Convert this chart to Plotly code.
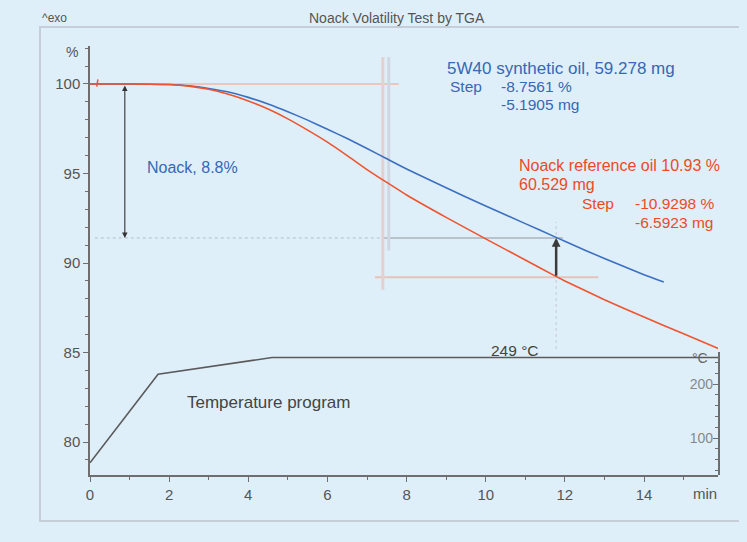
import plotly.graph_objects as go

# ---- data ----
time_synthetic = [0, 1, 2, 2.5, 3, 3.5, 4, 4.5, 5, 5.5, 6, 6.5, 7, 7.5, 8, 9, 10, 11, 11.75, 12, 13, 14, 14.5]
mass_synthetic = [100, 100, 99.97, 99.9, 99.75, 99.55, 99.25, 98.88, 98.45, 97.98, 97.47, 96.95, 96.4,
                  95.82, 95.25, 94.2, 93.18, 92.2, 91.46, 91.21, 90.25, 89.35, 88.94]

time_reference = [0, 1, 2, 2.5, 3, 3.5, 4, 4.5, 5, 5.5, 6, 6.5, 7, 7.5, 8, 9, 10, 11, 11.75, 12, 13, 14, 15, 15.9]
mass_reference = [100, 100, 99.97, 99.88, 99.7, 99.42, 99.05, 98.6, 98.05, 97.42, 96.75, 96.0, 95.22,
                  94.5, 93.8, 92.55, 91.35, 90.17, 89.28, 89.0, 87.95, 86.98, 86.05, 85.2]

temp_time = [0, 1.72, 4.6, 15.9]
temp_values = [54, 218, 249, 249]

x_ticks = [0, 2, 4, 6, 8, 10, 12, 14]
y_ticks = [80, 85, 90, 95, 100]
t_ticks = [100, 200]

start_level = 100
synthetic_level = 91.4
reference_level = 89.2
eval_time = 11.78
noack_arrow_time = 0.88
step_marker_time_a = 7.4
step_marker_time_b = 7.55

BG = "#dfeffa"
BLUE = "#3b6fc1"
RED = "#f0542e"
TXT_BLUE = "#3568b5"
TXT_RED = "#ec4a26"
AX = "#6e6e6e"
FONT = "Liberation Sans, Arial, sans-serif"

fig = go.Figure()

# reference guide lines
fig.add_trace(go.Scatter(x=[0, 7.8], y=[start_level, start_level], mode="lines",
                         line=dict(color="#efb9a9", width=1.5), hoverinfo="skip", showlegend=False))
fig.add_trace(go.Scatter(x=[0.12, step_marker_time_a], y=[synthetic_level, synthetic_level], mode="lines",
                         line=dict(color="#b7bfc7", width=1, dash="dot"), hoverinfo="skip", showlegend=False))
fig.add_trace(go.Scatter(x=[step_marker_time_a, 11.95], y=[synthetic_level, synthetic_level], mode="lines",
                         line=dict(color="#aab3bb", width=1.5), hoverinfo="skip", showlegend=False))
fig.add_trace(go.Scatter(x=[7.2, 12.85], y=[reference_level, reference_level], mode="lines",
                         line=dict(color="#e6c3b9", width=2), hoverinfo="skip", showlegend=False))
fig.add_trace(go.Scatter(x=[step_marker_time_a, step_marker_time_a], y=[88.5, 101.5], mode="lines",
                         line=dict(color="#e4d0d0", width=3), hoverinfo="skip", showlegend=False))
fig.add_trace(go.Scatter(x=[step_marker_time_b, step_marker_time_b], y=[90.7, 101.5], mode="lines",
                         line=dict(color="#cfd8e2", width=3), hoverinfo="skip", showlegend=False))
fig.add_trace(go.Scatter(x=[eval_time, eval_time], y=[78.16, 92.3], mode="lines",
                         line=dict(color="#c3cbd2", width=1, dash="dot"), hoverinfo="skip", showlegend=False))
fig.add_trace(go.Scatter(x=[0.17, 0.2], y=[99.85, 100.25], mode="lines",
                         line=dict(color=RED, width=1.5), hoverinfo="skip", showlegend=False))

# curves
fig.add_trace(go.Scatter(x=time_synthetic, y=mass_synthetic, mode="lines",
                         line=dict(color=BLUE, width=1.6, shape="spline", smoothing=0.5),
                         name="5W40 synthetic oil", showlegend=False))
fig.add_trace(go.Scatter(x=time_reference, y=mass_reference, mode="lines",
                         line=dict(color=RED, width=1.6, shape="spline", smoothing=0.5),
                         name="Noack reference oil", showlegend=False))
fig.add_trace(go.Scatter(x=temp_time, y=temp_values, mode="lines", yaxis="y2",
                         line=dict(color="#5a5a5a", width=1.6),
                         name="Temperature program", showlegend=False))

annotations = []
# arrows
annotations.append(dict(x=noack_arrow_time, y=synthetic_level, ax=noack_arrow_time, ay=start_level,
                        xref="x", yref="y", axref="x", ayref="y", text="", showarrow=True,
                        arrowhead=2, arrowside="end+start", arrowsize=1, arrowwidth=1.1, arrowcolor="#333"))
annotations.append(dict(x=eval_time, y=synthetic_level, ax=eval_time, ay=reference_level,
                        xref="x", yref="y", axref="x", ayref="y", text="", showarrow=True,
                        arrowhead=2, arrowsize=0.7, arrowwidth=2.5, arrowcolor="#3a3a3a"))

def txt(x, y, s, color, size=16, xanchor="left", xref="x", yref="y"):
    annotations.append(dict(x=x, y=y, xref=xref, yref=yref, text=s, showarrow=False,
                            xanchor=xanchor, yanchor="middle",
                            font=dict(family=FONT, size=size, color=color)))

txt(8.97, 100.89, "5W40 synthetic oil, 59.278 mg", TXT_BLUE, 17)
txt(9.05, 99.88, "Step", TXT_BLUE, 15.5)
txt(10.34, 99.88, "-8.7561 %", TXT_BLUE, 15.5)
txt(10.34, 98.86, "-5.1905 mg", TXT_BLUE, 15.5)
txt(10.79, 95.47, "Noack reference oil 10.93 %", TXT_RED, 16)
txt(10.79, 94.41, "60.529 mg", TXT_RED, 16)
txt(12.38, 93.35, "Step", TXT_RED, 15.5)
txt(13.72, 93.35, "-10.9298 %", TXT_RED, 15.5)
txt(13.72, 92.29, "-6.5923 mg", TXT_RED, 15.5)
txt(1.39, 95.31, "Noack, 8.8%", TXT_BLUE, 16)
txt(2.40, 82.23, "Temperature program", "#444", 17)
txt(10.74, 85.14, "249 °C", "#444", 15.5, xanchor="center")
txt(15.54, -0.042, "min", "#555", 15, xanchor="center", yref="paper")
txt(-0.0287, 0.986, "%", "#555", 14, xanchor="center", xref="paper", yref="paper")
annotations.append(dict(x=0.988, y=0.272, xref="paper", yref="paper", text="°C", showarrow=False,
                        xanchor="right", yanchor="middle", font=dict(family=FONT, size=14, color="#666")))
annotations.append(dict(x=-0.08, y=1.0653, xref="paper", yref="paper", text="^exo", showarrow=False,
                        xanchor="left", yanchor="middle", font=dict(family=FONT, size=12, color="#555")))
annotations.append(dict(x=0.489, y=1.0653, xref="paper", yref="paper", text="Noack Volatility Test by TGA",
                        showarrow=False, xanchor="center", yanchor="middle",
                        font=dict(family=FONT, size=14, color="#555")))

# the page body has an 8px margin, so the figure is placed at (8, 8)
fig.update_layout(
    width=739, height=534,
    margin=dict(l=82, r=29, t=38, b=67),
    paper_bgcolor=BG, plot_bgcolor=BG,
    font=dict(family=FONT, size=15, color="#555"),
    showlegend=False,
    annotations=annotations,
    shapes=[dict(type="rect", xref="paper", yref="paper", x0=-0.0796, x1=1.08, y0=-0.107, y1=1.044,
                 line=dict(color="#c5ced6", width=2), fillcolor="rgba(0,0,0,0)", layer="below")],
    xaxis=dict(range=[0, 15.87], showgrid=False, zeroline=False, showline=True, linecolor=AX, linewidth=1.5,
               ticks="outside", ticklen=5, tickcolor=AX, tickvals=x_ticks,
               minor=dict(dtick=1, ticks="outside", ticklen=3, tickcolor=AX),
               tickfont=dict(family=FONT, size=15, color="#555"), anchor="y"),
    yaxis=dict(range=[78.16, 102.12], showgrid=False, zeroline=False, showline=True, linecolor=AX, linewidth=1.5,
               ticks="outside", ticklen=5, tickcolor=AX, tickvals=y_ticks,
               minor=dict(dtick=1, ticks="outside", ticklen=3, tickcolor=AX),
               tickfont=dict(family=FONT, size=15, color="#555"), anchor="x"),
    yaxis2=dict(range=[31.5, 259.5], domain=[0, 0.287], anchor="x", side="right", showgrid=False,
                zeroline=False, showline=True, linecolor=AX, linewidth=1.5,
                ticks="inside", ticklen=5, tickcolor=AX, tickvals=t_ticks, ticklabelposition="inside",
                minor=dict(dtick=20, ticks="inside", ticklen=3, tickcolor=AX),
                tickfont=dict(family=FONT, size=14, color="#888")),
)

fig.write_html("out.html", post_script="document.body.style.background='" + BG + "';")
